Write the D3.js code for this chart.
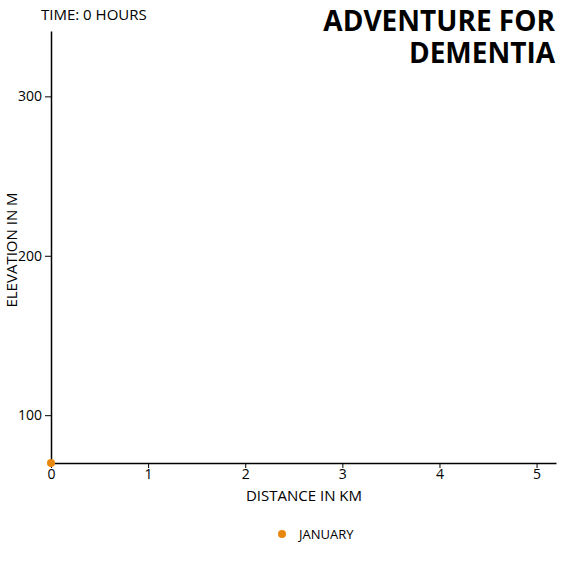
<!DOCTYPE html>
<html><head><meta charset="utf-8">
<script src="https://cdn.jsdelivr.net/npm/d3@7"></script>
<style>
body{margin:0;background:#fff;}
text{font-family:"Humor Sans","xkcd","Comic Sans MS","Open Sans",sans-serif;fill:#000;}
</style></head>
<body>
<svg id="c" width="566" height="566"></svg>
<script>
const titleLines = ["ADVENTURE FOR", "DEMENTIA"];
const timeLabel = "TIME: 0 HOURS";
const seriesNames = ["JANUARY"];
const seriesColors = ["#e8870e"];
const distanceKm = [0];
const elevationM = [70];
const xTicks = [0, 1, 2, 3, 4, 5];
const yTicks = [100, 200, 300];
const xDomain = [0, 5.2];
const yDomain = [70, 341];

const svg = d3.select("#c");
const x = d3.scaleLinear().domain(xDomain).range([51, 556]);
const y = d3.scaleLinear().domain(yDomain).range([463, 31]);

const xAxis = svg.append("g").attr("transform", "translate(0,463)")
  .call(d3.axisBottom(x).tickValues(xTicks).tickSize(6).tickSizeOuter(0).tickFormat(d3.format("d")));
const yAxis = svg.append("g").attr("transform", "translate(51,0)")
  .call(d3.axisLeft(y).tickValues(yTicks).tickSize(6).tickSizeOuter(0).tickFormat(d3.format("d")));
[xAxis, yAxis].forEach(a => {
  a.select(".domain").attr("stroke", "#000").attr("stroke-width", 1.5);
  a.selectAll(".tick line").attr("stroke", "#000").attr("stroke-width", 1);
  a.selectAll(".tick text").attr("font-size", 14).attr("font-family", null).style("fill", "#000");
});
xAxis.selectAll(".tick line").attr("y1", 0).attr("y2", 5);
xAxis.selectAll(".tick text").attr("y", 6);

svg.append("text").attr("x", 304).attr("y", 501).attr("text-anchor", "middle")
  .attr("font-size", 15).text("DISTANCE IN KM");
svg.append("text").attr("transform", "translate(17,250) rotate(-90)").attr("text-anchor", "middle")
  .attr("font-size", 15).text("ELEVATION IN M");

svg.append("text").attr("x", 41).attr("y", 20).attr("font-size", 15).text(timeLabel);
titleLines.forEach((t, i) => {
  svg.append("text").attr("x", 555).attr("y", 31 + i * 32).attr("text-anchor", "end")
    .attr("font-size", 28).attr("font-weight", "bold").text(t);
});

svg.selectAll("circle.pt").data(distanceKm.map((d, i) => ({d, e: elevationM[i]})))
  .enter().append("circle").attr("class", "pt")
  .attr("cx", d => x(d.d)).attr("cy", d => y(d.e)).attr("r", 4)
  .attr("fill", seriesColors[0]);

const leg = svg.append("g");
seriesNames.forEach((n, i) => {
  leg.append("circle").attr("cx", 282).attr("cy", 534).attr("r", 4).attr("fill", seriesColors[i]);
  leg.append("text").attr("x", 299).attr("y", 539).attr("font-size", 13).text(n);
});
</script>
</body></html>
